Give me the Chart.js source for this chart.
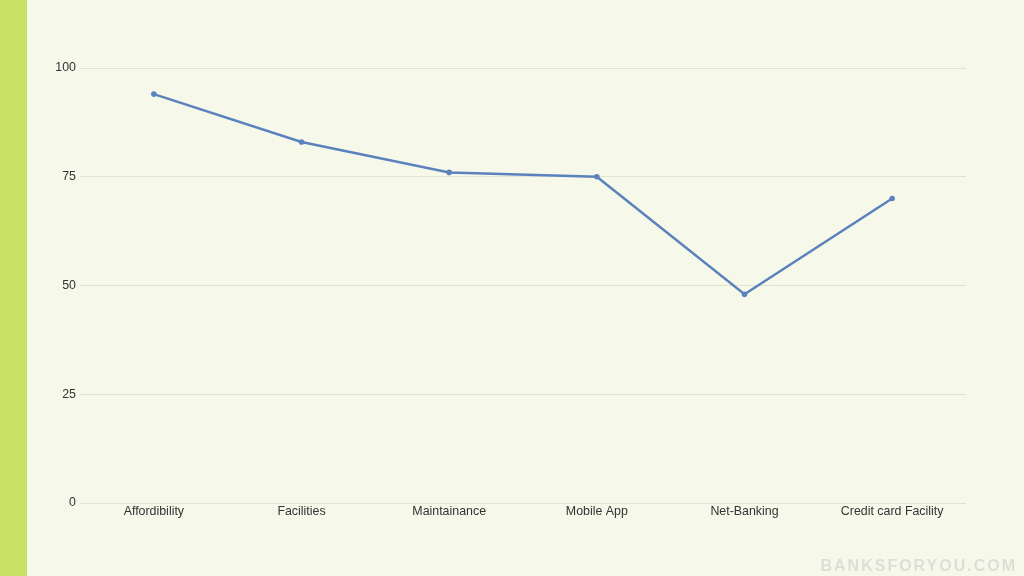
<!DOCTYPE html>
<html><head><meta charset="utf-8">
<script src="https://cdn.jsdelivr.net/npm/chart.js@4"></script>
<style>
html,body{margin:0;padding:0;background:#f6f9ea;width:1024px;height:576px;overflow:hidden;font-family:"Liberation Sans",Arial,sans-serif}
#bar{position:absolute;left:0;top:0;width:27px;height:576px;background:#c9e266}
#wrap{position:absolute;left:0;top:0;width:1024px;height:576px}
#wm{position:absolute;right:7px;top:557px;font-size:16px;font-weight:bold;letter-spacing:2px;color:#dcdfd6}
</style></head><body>
<div id="bar"></div>
<div id="wrap"><canvas id="c" width="1024" height="576"></canvas></div>
<div id="wm">BANKSFORYOU.COM</div>
<script>
const categories = ["Affordibility","Facilities","Maintainance","Mobile App","Net-Banking","Credit card Facility"];
const values = [94, 83, 76, 75, 48, 70];
const yTicks = [0, 25, 50, 75, 100];

new Chart(document.getElementById('c'), {
  type: 'line',
  data: { labels: categories, datasets: [{
    data: values, borderColor: '#5b82bc', backgroundColor: '#5b82bc',
    borderWidth: 2.5, pointRadius: 2.8, pointBorderWidth: 0, tension: 0, fill: false
  }]},
  options: {
    responsive: false, animation: false,
    layout: { padding: { top: 68, right: 58, bottom: 0, left: 0 } },
    plugins: { legend: { display: false }, tooltip: { enabled: false } },
    scales: {
      x: {
        offset: true,
        grid: { display: false, drawTicks: false },
        border: { display: false },
        ticks: { color: '#333', font: { family: 'Liberation Sans', size: 12.4 }, padding: 1, maxRotation: 0 },
        afterFit: s => { s.height = 73; }
      },
      y: {
        min: 0, max: 100,
        afterBuildTicks: s => { s.ticks = yTicks.map(v => ({ value: v })); },
        grid: { color: '#dfe3cf', lineWidth: 1, drawTicks: false },
        border: { display: false },
        ticks: { color: '#333', font: { family: 'Liberation Sans', size: 12.4 }, padding: 4 },
        afterFit: s => { s.width = 80; }
      }
    }
  }
});
</script>
</body></html>
